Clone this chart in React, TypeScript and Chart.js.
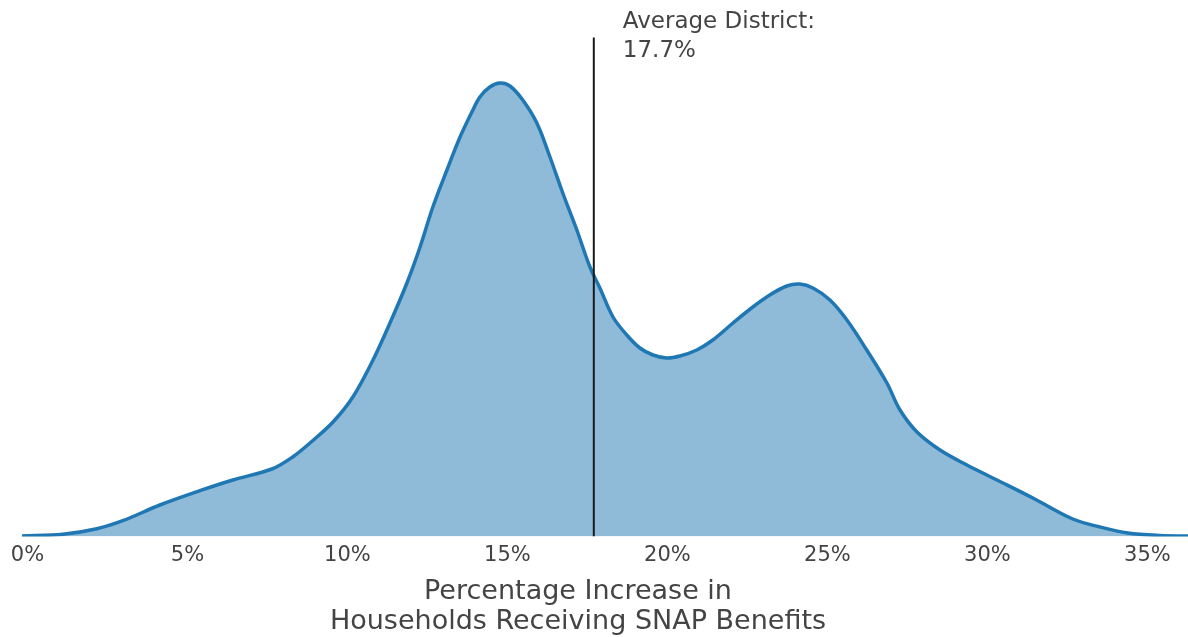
import React, { useEffect, useRef } from "react";
import { Chart, registerables } from "chart.js";

Chart.register(...registerables);

// Percentage increase (%) and estimated density
const X_VALUES = [
  -0.17, 1.11, 2.17, 2.98, 4.14, 5.39, 6.42, 7.64, 8.3, 8.83, 9.55, 10.17, 10.8, 11.33, 11.86,
  12.27, 12.67, 13.11, 13.52, 13.89, 14.14, 14.45, 14.77, 15.08, 15.48, 15.92, 16.33, 16.73,
  17.17, 17.58, 17.89, 18.3, 18.73, 19.14, 19.55, 19.98, 20.39, 20.92, 21.42, 22.05, 22.67,
  23.2, 23.73, 24.14, 24.55, 25.08, 25.61, 26.23, 26.86, 27.27, 27.8, 28.52, 29.36, 30.3,
  31.48, 32.67, 33.52, 34.39, 35.39, 36.27,
];
const DENSITY = [
  0.0001, 0.00044, 0.00156, 0.00316, 0.0063, 0.00916, 0.0113, 0.0135, 0.01596, 0.0187, 0.0229,
  0.0279, 0.0353, 0.0427, 0.0507, 0.0579, 0.0659, 0.0733, 0.0799, 0.0849, 0.0879, 0.0899,
  0.0907, 0.0901, 0.0873, 0.0827, 0.0759, 0.0687, 0.0613, 0.0539, 0.0497, 0.0439, 0.0403,
  0.0377, 0.0363, 0.0357, 0.0361, 0.0373, 0.0393, 0.0427, 0.0459, 0.0483, 0.0501, 0.0505,
  0.0497, 0.0473, 0.0433, 0.0373, 0.0307, 0.0253, 0.0209, 0.0173, 0.0143, 0.0113, 0.0075,
  0.0035, 0.0019, 0.0007, 0.0002, 0.0001,
];
const AVERAGE = 17.7;
const AVERAGE_LINE_TOP = 0.0998;
const X_TICKS = [0, 5, 10, 15, 20, 25, 30, 35];
const ANNOTATION_LINES = ["Average District:", "17.7%"];
const AXIS_TITLE_LINES = ["Percentage Increase in", "Households Receiving SNAP Benefits"];

const FONT = '"DejaVu Sans", Verdana, sans-serif';
const TEXT_COLOR = "#444444";

const textPlugin = {
  id: "customText",
  afterDraw(chart: any) {
    const ctx = chart.ctx;
    const xs = chart.scales.x;
    ctx.save();
    ctx.fillStyle = TEXT_COLOR;
    // annotation next to the average line
    ctx.font = `23px ${FONT}`;
    ctx.textAlign = "left";
    ctx.textBaseline = "alphabetic";
    const ax = xs.getPixelForValue(AVERAGE) + 29;
    ctx.fillText(ANNOTATION_LINES[0], ax, 28);
    ctx.fillText(ANNOTATION_LINES[1], ax, 57);
    // axis title
    ctx.font = `27px ${FONT}`;
    ctx.textAlign = "center";
    ctx.fillText(AXIS_TITLE_LINES[0], 578, 599);
    ctx.fillText(AXIS_TITLE_LINES[1], 578, 629);
    ctx.restore();
  },
};

export default function App() {
  const ref = useRef<HTMLCanvasElement | null>(null);
  useEffect(() => {
    if (!ref.current) return;
    const chart = new Chart(ref.current, {
      type: "line",
      data: {
        datasets: [
          {
            data: X_VALUES.map((x, i) => ({ x, y: DENSITY[i] })),
            borderColor: "#1f77b4",
            backgroundColor: "rgba(31,119,180,0.5)",
            borderWidth: 3.5,
            fill: "origin",
            pointRadius: 0,
            tension: 0.35,
            order: 1,
          },
          {
            data: [
              { x: AVERAGE, y: 0 },
              { x: AVERAGE, y: AVERAGE_LINE_TOP },
            ],
            borderColor: "#1a1a1a",
            borderWidth: 2,
            fill: false,
            pointRadius: 0,
            order: 0,
          },
        ],
      },
      options: {
        responsive: false,
        animation: false,
        layout: { padding: { left: 22, right: 0, top: 36.5, bottom: 0 } },
        plugins: { legend: { display: false }, tooltip: { enabled: false }, title: { display: false } },
        scales: {
          x: {
            type: "linear",
            min: -0.17,
            max: 36.27,
            afterBuildTicks: (scale: any) => {
              scale.ticks = X_TICKS.map((v) => ({ value: v }));
            },
            afterFit: (scale: any) => {
              scale.height = 100.5;
            },
            grid: { display: false, drawTicks: false },
            border: { display: false },
            ticks: {
              autoSkip: false,
              maxRotation: 0,
              padding: 6,
              color: TEXT_COLOR,
              font: { family: FONT, size: 21 },
              callback: (v: any) => `${v}%`,
            },
          },
          y: { display: false, min: 0, max: 0.1 },
        },
      },
      plugins: [textPlugin],
    });
    return () => chart.destroy();
  }, []);
  return (
    <div style={{ position: "fixed", left: 0, top: 0, width: 1188, height: 637, background: "#fff" }}>
      <canvas ref={ref} width={1188} height={637} style={{ display: "block" }} />
    </div>
  );
}
